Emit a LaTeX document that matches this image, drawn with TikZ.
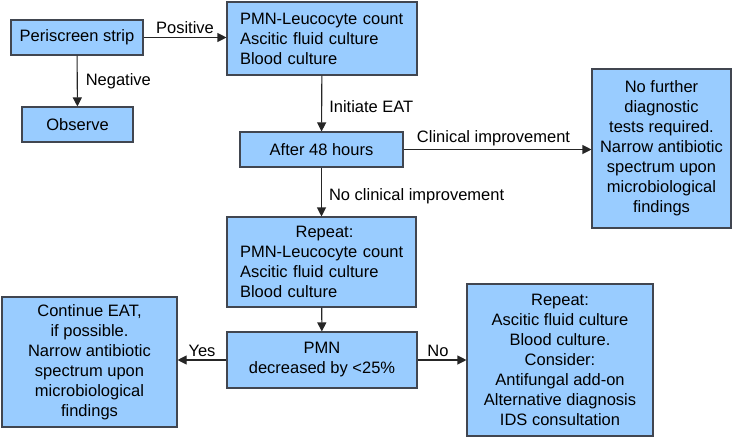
\documentclass[tikz,border=0pt]{standalone}
\usepackage{fontspec}
\setmainfont{Liberation Sans}
\usetikzlibrary{arrows.meta}
\definecolor{boxfill}{RGB}{153,204,255}
\definecolor{boxdraw}{RGB}{65,70,80}
\begin{document}
\begin{tikzpicture}[x=1pt,y=-1pt,
  every node/.style={font=\fontsize{16.5}{20}\selectfont},
  box/.style={draw=boxdraw,fill=boxfill,line width=1.1pt,inner sep=0pt,align=center},
  conn/.style={draw=black!85,line width=1.1pt,-{Triangle[length=9pt,width=9pt]}},
  lbl/.style={inner sep=2pt}
]
\useasboundingbox (0,0) rectangle (733,437);
\node[box,minimum width=132pt,minimum height=35pt] (peri) at (77,37.5) {Periscreen strip};
\node[box,minimum width=111pt,minimum height=35pt] (obs) at (77.5,124.5) {Observe};
\node[box,minimum width=190pt,minimum height=73pt,text width=170pt,inner xsep=10pt,align=left] (pmn1) at (322,38.5) {\hspace{3pt}PMN-Leucocyte count\\\hspace{3pt}Ascitic fluid culture\\\hspace{3pt}Blood culture};
\node[box,minimum width=163pt,minimum height=35pt] (after) at (321.5,149.5) {After 48 hours};
\node[box,minimum width=139pt,minimum height=159pt] (nofur) at (661.5,148.5) {No further\\diagnostic\\tests required.\\Narrow antibiotic\\spectrum upon\\microbiological\\findings};
\node[box,minimum width=189pt,minimum height=90pt,text width=171pt,inner xsep=9pt,align=left] (rep1) at (321.5,262) {\makebox[171pt][c]{\hspace{6pt}Repeat:}\\\hspace{4pt}PMN-Leucocyte count\\\hspace{4pt}Ascitic fluid culture\\\hspace{4pt}Blood culture};
\node[box,minimum width=190pt,minimum height=56pt] (pmn2) at (322,360) {PMN\\decreased by <25\%};
\node[box,minimum width=175pt,minimum height=130pt] (cont) at (89.5,362) {Continue EAT,\\if possible.\\Narrow antibiotic\\spectrum upon\\microbiological\\findings};
\node[box,minimum width=186pt,minimum height=152pt] (rep2) at (560,360) {Repeat:\\Ascitic fluid culture\\Blood culture.\\Consider:\\Antifungal add-on\\Alternative diagnosis\\IDS consultation};
\draw[conn] (peri) -- node[lbl,midway,above=1pt] (lpos) {Positive} (pmn1.west |- peri);
\draw[conn] (peri) -- node[lbl,midway,right=6pt] (lneg) {Negative} (obs);
\draw[conn] (pmn1) -- node[lbl,midway,right=5pt,yshift=-3pt] (lini) {Initiate EAT} (after);
\draw[conn] (after) -- node[lbl,midway,above=1pt,xshift=-4pt] (lcli) {Clinical improvement} (nofur.west |- after);
\draw[conn] (after) -- node[lbl,midway,right=5pt,yshift=-4pt] (lnoc) {No clinical improvement} (rep1);
\draw[conn] (rep1) -- (pmn2);
\draw[conn] (pmn2) -- node[lbl,midway,above=1pt] (lyes) {Yes} (cont.east |- pmn2);
\draw[conn] (pmn2) -- node[lbl,midway,above=1pt,xshift=-4pt] (lno) {No} (rep2.west |- pmn2);
\end{tikzpicture}
\end{document}
